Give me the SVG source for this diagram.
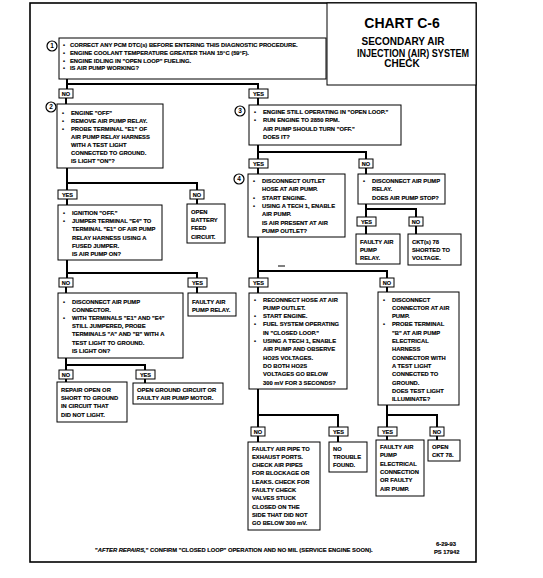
<svg xmlns="http://www.w3.org/2000/svg" width="543" height="578" viewBox="0 0 543 578">
<style>
.box{fill:#fff;stroke:#000;stroke-width:1}
.frame{fill:none;stroke:#000;stroke-width:1.6}
.t{font-family:"Liberation Sans",Arial,sans-serif;font-weight:bold;font-size:5.8px;fill:#000;stroke:#000;stroke-width:0.15}
.lt{font-family:"Liberation Sans",Arial,sans-serif;font-weight:bold;font-size:5.6px;fill:#000;stroke:#000;stroke-width:0.15;text-anchor:middle}
.c{fill:none;stroke:#000;stroke-width:2}
.n circle{fill:#fff;stroke:#000;stroke-width:1.2}
.n text{font-family:"Liberation Sans",Arial,sans-serif;font-weight:bold;font-size:6.5px;text-anchor:middle}
.ttl{font-family:"Liberation Sans",Arial,sans-serif;font-weight:bold;fill:#000;text-anchor:middle}
</style>
<rect width="543" height="578" fill="#fff"/>
<rect class="frame" x="30" y="3" width="446" height="559"/>
<g id="title">
<rect class="box" x="327" y="3" width="149" height="82"/>
<text class="ttl" x="402" y="28" font-size="14">CHART C-6</text>
<text class="ttl" x="403" y="45" font-size="10">SECONDARY AIR</text>
<text class="ttl" x="413" y="57" font-size="10" textLength="112" lengthAdjust="spacingAndGlyphs">INJECTION (AIR) SYSTEM</text>
<text class="ttl" x="402" y="67" font-size="10">CHECK</text>
</g>

<g id="connectors">
<path class="c" d="M67 79V89M67 84H258V89"/>
<path class="c" d="M66 98V104"/>
<path class="c" d="M258 98V105"/>
<path class="c" d="M67 168V190M67 183H197V190"/>
<path class="c" d="M67 199V205"/>
<path class="c" d="M197 199V204"/>
<path class="c" d="M67 260V278M67 273H197V278"/>
<path class="c" d="M66 287V293"/>
<path class="c" d="M197 287V293"/>
<path class="c" d="M66 358V370M66 365H145V370"/>
<path class="c" d="M66 379V382"/>
<path class="c" d="M145 379V383"/>
<path class="c" d="M258 145V159M258 152H366V159"/>
<path class="c" d="M258 168V174"/>
<path class="c" d="M366 168V174"/>
<path class="c" d="M366 204V217M366 209H416V217"/>
<path class="c" d="M366 226V234"/>
<path class="c" d="M416 226V234"/>
<path class="c" d="M258 237V278M258 271H387V278"/>
<path class="c" d="M258 287V293"/>
<path class="c" d="M387 287V292"/>
<path class="c" d="M258 389V427M258 415H338V427"/>
<path class="c" d="M258 436V442"/>
<path class="c" d="M338 436V442"/>
<path class="c" d="M387 405V427M387 415H437V427"/>
<path class="c" d="M387 436V440"/>
<path class="c" d="M437 436V440"/>
<path d="M278 266H285" stroke="#000" stroke-width="1"/>
</g>

<g id="labels">
<rect class="box" x="59" y="89" width="14" height="9"/><text class="lt" x="66" y="95.8">NO</text>
<rect class="box" x="249" y="89" width="19" height="9"/><text class="lt" x="258.5" y="95.8">YES</text>
<rect class="box" x="58" y="190" width="19" height="9"/><text class="lt" x="67.5" y="196.8">YES</text>
<rect class="box" x="190" y="190" width="14" height="9"/><text class="lt" x="197" y="196.8">NO</text>
<rect class="box" x="59" y="278" width="14" height="9"/><text class="lt" x="66" y="284.8">NO</text>
<rect class="box" x="188" y="278" width="19" height="9"/><text class="lt" x="197.5" y="284.8">YES</text>
<rect class="box" x="59" y="370" width="14" height="9"/><text class="lt" x="66" y="376.8">NO</text>
<rect class="box" x="136" y="370" width="19" height="9"/><text class="lt" x="145.5" y="376.8">YES</text>
<rect class="box" x="249" y="159" width="19" height="9"/><text class="lt" x="258.5" y="165.8">YES</text>
<rect class="box" x="359" y="159" width="14" height="9"/><text class="lt" x="366" y="165.8">NO</text>
<rect class="box" x="357" y="217" width="19" height="9"/><text class="lt" x="366.5" y="223.8">YES</text>
<rect class="box" x="409" y="217" width="14" height="9"/><text class="lt" x="416" y="223.8">NO</text>
<rect class="box" x="249" y="278" width="19" height="9"/><text class="lt" x="258.5" y="284.8">YES</text>
<rect class="box" x="380" y="278" width="14" height="9"/><text class="lt" x="387" y="284.8">NO</text>
<rect class="box" x="251" y="427" width="14" height="9"/><text class="lt" x="258" y="433.8">NO</text>
<rect class="box" x="329" y="427" width="19" height="9"/><text class="lt" x="338.5" y="433.8">YES</text>
<rect class="box" x="378" y="427" width="19" height="9"/><text class="lt" x="387.5" y="433.8">YES</text>
<rect class="box" x="430" y="427" width="14" height="9"/><text class="lt" x="437" y="433.8">NO</text>
</g>

<g id="step1">
<rect class="box" x="59" y="38" width="267" height="41"/>
<g class="n"><circle cx="52" cy="46" r="5"/><text x="52" y="48.3">1</text></g>
<text class="t" x="63" y="47">•</text><text class="t" x="70" y="47">CORRECT ANY PCM DTC(s) BEFORE ENTERING THIS DIAGNOSTIC PROCEDURE.</text>
<text class="t" x="63" y="54.8">•</text><text class="t" x="70" y="54.8">ENGINE COOLANT TEMPERATURE GREATER THAN 15°C (59°F).</text>
<text class="t" x="63" y="62.6">•</text><text class="t" x="70" y="62.6">ENGINE IDLING IN "OPEN LOOP" FUELING.</text>
<text class="t" x="63" y="70.4">•</text><text class="t" x="70" y="70.4">IS AIR PUMP WORKING?</text>
</g>

<g id="step2">
<rect class="box" x="57" y="104" width="106" height="64"/>
<g class="n"><circle cx="51" cy="107" r="5"/><text x="51" y="109.3">2</text></g>
<text class="t" x="62" y="114.5">•</text><text class="t" x="71" y="114.5">ENGINE "OFF"</text>
<text class="t" x="62" y="122.6">•</text><text class="t" x="71" y="122.6">REMOVE AIR PUMP RELAY.</text>
<text class="t" x="62" y="130.7">•</text><text class="t" x="71" y="130.7">PROBE TERMINAL "E1" OF</text>
<text class="t" x="71" y="138.8">AIR PUMP RELAY HARNESS</text>
<text class="t" x="71" y="146.9">WITH A TEST LIGHT</text>
<text class="t" x="71" y="155">CONNECTED TO GROUND.</text>
<text class="t" x="71" y="163.1">IS LIGHT "ON"?</text>
</g>

<g id="ignition-off">
<rect class="box" x="58" y="205" width="104" height="55"/>
<text class="t" x="63" y="215">•</text><text class="t" x="72" y="215">IGNITION "OFF."</text>
<text class="t" x="63" y="223.2">•</text><text class="t" x="72" y="223.2">JUMPER TERMINAL "E4" TO</text>
<text class="t" x="72" y="231.4">TERMINAL "E1" OF AIR PUMP</text>
<text class="t" x="72" y="239.6">RELAY HARNESS USING A</text>
<text class="t" x="72" y="247.8">FUSED JUMPER.</text>
<text class="t" x="72" y="256">IS AIR PUMP ON?</text>
</g>

<g id="open-battery">
<rect class="box" x="187" y="204" width="38" height="39"/>
<text class="t" x="191" y="214">OPEN</text>
<text class="t" x="191" y="222.2">BATTERY</text>
<text class="t" x="191" y="230.4">FEED</text>
<text class="t" x="191" y="238.6">CIRCUIT.</text>
</g>

<g id="disconnect-air-pump-connector">
<rect class="box" x="58" y="293" width="125" height="65"/>
<text class="t" x="63" y="303.5">•</text><text class="t" x="72" y="303.5">DISCONNECT AIR PUMP</text>
<text class="t" x="72" y="311.7">CONNECTOR.</text>
<text class="t" x="63" y="319.9">•</text><text class="t" x="72" y="319.9">WITH TERMINALS "E1" AND "E4"</text>
<text class="t" x="72" y="328.1">STILL JUMPERED, PROBE</text>
<text class="t" x="72" y="336.3">TERMINALS "A" AND "B" WITH A</text>
<text class="t" x="72" y="344.5">TEST LIGHT TO GROUND.</text>
<text class="t" x="72" y="352.7">IS LIGHT ON?</text>
</g>

<g id="faulty-relay-left">
<rect class="box" x="188" y="293" width="48" height="23"/>
<text class="t" x="192" y="303.5">FAULTY AIR</text>
<text class="t" x="192" y="311.7">PUMP RELAY.</text>
</g>

<g id="repair-open">
<rect class="box" x="57" y="382" width="70" height="40"/>
<text class="t" x="61" y="392">REPAIR OPEN OR</text>
<text class="t" x="61" y="400.2">SHORT TO GROUND</text>
<text class="t" x="61" y="408.4">IN CIRCUIT THAT</text>
<text class="t" x="61" y="416.6">DID NOT LIGHT.</text>
</g>

<g id="open-ground">
<rect class="box" x="133" y="383" width="90" height="21"/>
<text class="t" x="137" y="392">OPEN GROUND CIRCUIT OR</text>
<text class="t" x="137" y="400.2">FAULTY AIR PUMP MOTOR.</text>
</g>

<g id="step3">
<rect class="box" x="249" y="105" width="152" height="40"/>
<g class="n"><circle cx="240" cy="111" r="5"/><text x="240" y="113.3">3</text></g>
<text class="t" x="254" y="114">•</text><text class="t" x="263" y="114">ENGINE STILL OPERATING IN "OPEN LOOP."</text>
<text class="t" x="254" y="122.3">•</text><text class="t" x="263" y="122.3">RUN ENGINE TO 2850 RPM.</text>
<text class="t" x="263" y="130.6">AIR PUMP SHOULD TURN "OFF."</text>
<text class="t" x="263" y="138.9">DOES IT?</text>
</g>

<g id="step4">
<rect class="box" x="248" y="174" width="97" height="63"/>
<g class="n"><circle cx="239" cy="179" r="5"/><text x="239" y="181.3">4</text></g>
<text class="t" x="253" y="183">•</text><text class="t" x="262" y="183">DISCONNECT OUTLET</text>
<text class="t" x="262" y="191.3">HOSE AT AIR PUMP.</text>
<text class="t" x="253" y="199.6">•</text><text class="t" x="262" y="199.6">START ENGINE.</text>
<text class="t" x="253" y="207.9">•</text><text class="t" x="262" y="207.9">USING A TECH 1, ENABLE</text>
<text class="t" x="262" y="216.2">AIR PUMP.</text>
<text class="t" x="262" y="224.5">IS AIR PRESENT AT AIR</text>
<text class="t" x="262" y="232.8">PUMP OUTLET?</text>
</g>

<g id="disconnect-relay">
<rect class="box" x="358" y="174" width="87" height="30"/>
<text class="t" x="363" y="183">•</text><text class="t" x="372" y="183">DISCONNECT AIR PUMP</text>
<text class="t" x="372" y="191.3">RELAY.</text>
<text class="t" x="372" y="199.6">DOES AIR PUMP STOP?</text>
</g>

<g id="faulty-relay-right">
<rect class="box" x="356" y="234" width="44" height="30"/>
<text class="t" x="360" y="244">FAULTY AIR</text>
<text class="t" x="360" y="252.2">PUMP</text>
<text class="t" x="360" y="260.4">RELAY.</text>
</g>

<g id="ckt-shorted">
<rect class="box" x="408" y="234" width="53" height="31"/>
<text class="t" x="412" y="244">CKT(s) 78</text>
<text class="t" x="412" y="252.2">SHORTED TO</text>
<text class="t" x="412" y="260.4">VOLTAGE.</text>
</g>

<g id="reconnect-hose">
<rect class="box" x="249" y="293" width="98" height="96"/>
<text class="t" x="254" y="301.5">•</text><text class="t" x="263" y="301.5">RECONNECT HOSE AT AIR</text>
<text class="t" x="263" y="309.8">PUMP OUTLET.</text>
<text class="t" x="254" y="318.1">•</text><text class="t" x="263" y="318.1">START ENGINE.</text>
<text class="t" x="254" y="326.4">•</text><text class="t" x="263" y="326.4">FUEL SYSTEM OPERATING</text>
<text class="t" x="263" y="334.7">IN "CLOSED LOOP."</text>
<text class="t" x="254" y="343">•</text><text class="t" x="263" y="343">USING A TECH 1, ENABLE</text>
<text class="t" x="263" y="351.3">AIR PUMP AND OBSERVE</text>
<text class="t" x="263" y="359.6">HO2S VOLTAGES.</text>
<text class="t" x="263" y="367.9">DO BOTH HO2S</text>
<text class="t" x="263" y="376.2">VOLTAGES GO BELOW</text>
<text class="t" x="263" y="384.5">300 mV FOR 3 SECONDS?</text>
</g>

<g id="disconnect-connector">
<rect class="box" x="378" y="292" width="81" height="113"/>
<text class="t" x="383" y="301.5">•</text><text class="t" x="392" y="301.5">DISCONNECT</text>
<text class="t" x="392" y="309.8">CONNECTOR AT AIR</text>
<text class="t" x="392" y="318.1">PUMP.</text>
<text class="t" x="383" y="326.4">•</text><text class="t" x="392" y="326.4">PROBE TERMINAL</text>
<text class="t" x="392" y="334.7">"B" AT AIR PUMP</text>
<text class="t" x="392" y="343">ELECTRICAL</text>
<text class="t" x="392" y="351.3">HARNESS</text>
<text class="t" x="392" y="359.6">CONNECTOR WITH</text>
<text class="t" x="392" y="367.9">A TEST LIGHT</text>
<text class="t" x="392" y="376.2">CONNECTED TO</text>
<text class="t" x="392" y="384.5">GROUND.</text>
<text class="t" x="392" y="392.8">DOES TEST LIGHT</text>
<text class="t" x="392" y="401.1">ILLUMINATE?</text>
</g>

<g id="faulty-air-pipe">
<rect class="box" x="248" y="442" width="72" height="88"/>
<text class="t" x="252" y="450.5">FAULTY AIR PIPE TO</text>
<text class="t" x="252" y="458.8">EXHAUST PORTS.</text>
<text class="t" x="252" y="467.1">CHECK AIR PIPES</text>
<text class="t" x="252" y="475.4">FOR BLOCKAGE OR</text>
<text class="t" x="252" y="483.7">LEAKS.  CHECK FOR</text>
<text class="t" x="252" y="492">FAULTY CHECK</text>
<text class="t" x="252" y="500.3">VALVES STUCK</text>
<text class="t" x="252" y="508.6">CLOSED ON THE</text>
<text class="t" x="252" y="516.9">SIDE THAT DID NOT</text>
<text class="t" x="252" y="525.2">GO BELOW 300 mV.</text>
</g>

<g id="no-trouble">
<rect class="box" x="329" y="442" width="38" height="30"/>
<text class="t" x="333" y="450.5">NO</text>
<text class="t" x="333" y="458.8">TROUBLE</text>
<text class="t" x="333" y="467.1">FOUND.</text>
</g>

<g id="faulty-electrical">
<rect class="box" x="376" y="440" width="48" height="56"/>
<text class="t" x="380" y="449">FAULTY AIR</text>
<text class="t" x="380" y="457.3">PUMP</text>
<text class="t" x="380" y="465.6">ELECTRICAL</text>
<text class="t" x="380" y="473.9">CONNECTION</text>
<text class="t" x="380" y="482.2">OR FAULTY</text>
<text class="t" x="380" y="490.5">AIR PUMP.</text>
</g>

<g id="open-ckt78">
<rect class="box" x="428" y="440" width="32" height="21"/>
<text class="t" x="432" y="449">OPEN</text>
<text class="t" x="432" y="457.3">CKT 78.</text>
</g>

<g id="footer">
<text class="t" x="95" y="552">"<tspan font-style="italic">AFTER REPAIRS,</tspan>" CONFIRM "CLOSED LOOP" OPERATION AND NO MIL (SERVICE ENGINE SOON).</text>
<text class="t" x="436" y="546">6-29-93</text>
<text class="t" x="434" y="553.5">PS 17942</text>
</g>
</svg>
